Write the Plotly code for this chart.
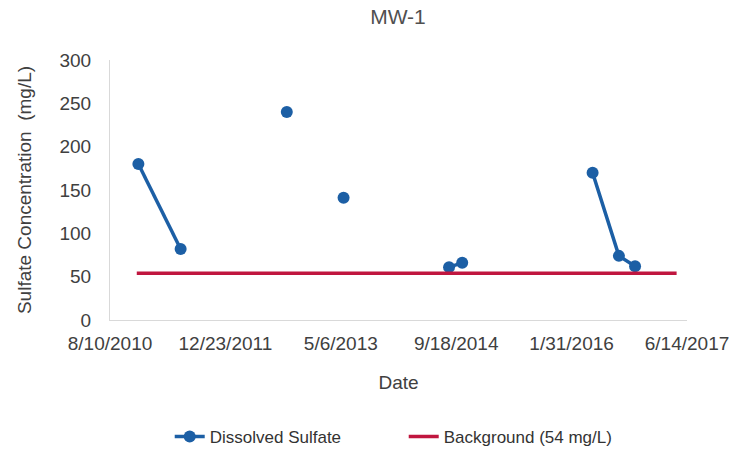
import plotly.graph_objects as go

# Data
sample_dates = ["2010-12-11", "2011-06-12", None, "2012-09-14", None, "2013-05-18", None,
                "2014-08-18", "2014-10-14", None, "2016-05-01", "2016-08-23", "2016-11-01"]
gap_dates = ["2012-01-01", "2013-01-01", "2014-01-01", "2015-06-01"]
sulfate = [180, 82, None, 240, None, 141, None, 61, 66, None, 170, 74, 62]
background_dates = ["2010-12-04", "2017-04-30"]
background_vals = [54, 54]
tick_dates = ["2010-08-10", "2011-12-23", "2013-05-06", "2014-09-18", "2016-01-31", "2017-06-14"]
tick_labels = ["8/10/2010", "12/23/2011", "5/6/2013", "9/18/2014", "1/31/2016", "6/14/2017"]
y_ticks = [0, 50, 100, 150, 200, 250, 300]

# fill gap rows with dates (values None so the line breaks there)
gi = iter(gap_dates)
xs = [d if d is not None else next(gi) for d in sample_dates]

blue = "#1C5FA5"
red = "#C0163F"
txt = "#404040"

fig = go.Figure()
fig.add_trace(go.Scatter(
    x=xs, y=sulfate, mode="lines+markers", name="Dissolved Sulfate",
    line=dict(color=blue, width=3.5), marker=dict(color=blue, size=12),
    connectgaps=False))
fig.add_trace(go.Scatter(
    x=background_dates, y=background_vals, mode="lines", name="Background (54 mg/L)",
    line=dict(color=red, width=3.5)))

fig.update_layout(
    width=755, height=453,
    paper_bgcolor="white", plot_bgcolor="white",
    margin=dict(l=110, r=68, t=60, b=133, autoexpand=False),
    font=dict(family="Liberation Sans, Arial, sans-serif", color=txt),
    title=dict(text="MW-1", x=398 / 755, xref="container", xanchor="center",
               y=1 - 17 / 453, yref="container", yanchor="middle",
               font=dict(size=21, color="#505050")),
    showlegend=True,
    legend=dict(orientation="h", x=0.1035, xanchor="left", y=-0.45, yanchor="middle",
                font=dict(size=17, color="#333333"), entrywidth=189, entrywidthmode="pixels",
                traceorder="normal"),
)
fig.update_xaxes(
    type="date", range=[tick_dates[0], tick_dates[-1]], automargin=False,
    tickvals=tick_dates, ticktext=tick_labels, tickangle=0,
    tickfont=dict(size=19, color=txt), ticklabelstandoff=6,
    showgrid=False, showline=True, linecolor="#d9d9d9", linewidth=1,
    ticks="", zeroline=False,
    title=dict(text="Date", font=dict(size=19, color=txt), standoff=22),
)
fig.update_yaxes(
    range=[0, 300], tickvals=y_ticks, automargin=False,
    tickfont=dict(size=19, color=txt),
    showgrid=False, showline=True, linecolor="#d9d9d9", linewidth=1,
    ticks="", zeroline=False, ticklabelstandoff=14,
    title=dict(text="Sulfate Concentration  (mg/L)", font=dict(size=19, color=txt), standoff=22),
)

fig.write_html("out.html", config={"displayModeBar": False},
               post_script="document.body.style.margin='0';")
